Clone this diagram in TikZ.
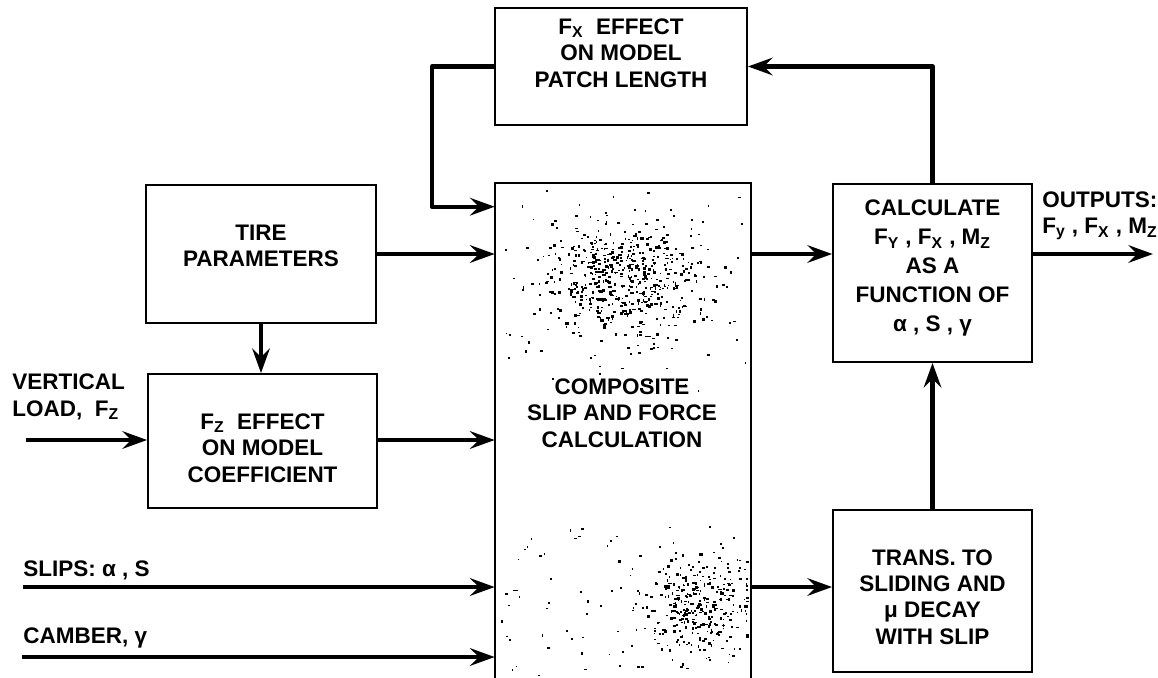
\documentclass[tikz,border=0pt]{standalone}
\usepackage{fontspec}
\setmainfont{Liberation Sans}
\usetikzlibrary{arrows.meta,positioning,calc}

\begin{document}
\begin{tikzpicture}[x=0.02cm,y=-0.02cm,
        font=\fontsize{12.8}{15}\selectfont\bfseries,
        boite/.style={draw,line width=1.1pt,inner sep=0pt},
        texte/.style={align=center,inner sep=0pt},
        fleche/.style={line width=2.4pt,line join=round,-{Stealth[length=14pt,width=10pt,inset=5pt]}},
        etiquette/.style={align=left,inner sep=0pt,anchor=west}]
        \useasboundingbox (0,0) rectangle (1158,677);

        % Boites
        \node[boite,minimum width=5.04cm,minimum height=2.34cm] (fx_effet) at (621,66.5) {};
        \node[texte] (fx_texte) at (621,53) {F\textsubscript{X}\ \ EFFECT\\ON MODEL\\PATCH LENGTH};
        \node[boite,minimum width=4.6cm,minimum height=2.76cm] (pneu) at (261,254) {};
        \node[texte] (pneu_texte) at (261,246) {TIRE\\PARAMETERS};
        \node[boite,minimum width=4.58cm,minimum height=2.68cm] (fz_effet) at (262.5,441) {};
        \node[texte] (fz_texte) at (262.5,448) {F\textsubscript{Z}\ \ EFFECT\\ON MODEL\\COEFFICIENT};
        \node[minimum width=5.12cm,minimum height=9.94cm,inner sep=0pt] (composite) at (623,431.5) {};
        \draw[line width=1.1pt] (composite.south west) |- (composite.north east) -- (composite.south east);
        \node[texte] (composite_texte) at (622,413) {COMPOSITE\\SLIP AND FORCE\\CALCULATION};
        \node[boite,minimum width=3.98cm,minimum height=3.56cm] (calcul) at (932.5,273) {};
        \node[texte,font=\fontsize{12.8}{16.5}\selectfont\bfseries] (calcul_texte) at (932.5,268)
            {CALCULATE\\F\textsubscript{Y} , F\textsubscript{X} , M\textsubscript{Z}\\AS A\\FUNCTION OF\\α , S , γ};
        \node[boite,minimum width=3.98cm,minimum height=3.24cm] (glissement) at (932.5,591) {};
        \node[texte] (glissement_texte) at (932.5,597) {TRANS. TO\\SLIDING AND\\μ DECAY\\WITH SLIP};

        % Grain du bloc central
        \pgfmathsetseed{7}
        \foreach \i in {1,...,520}{
            \pgfmathsetmacro{\px}{min(745,max(500,625+80*(rnd+rnd+rnd-1.5)))}
            \pgfmathsetmacro{\py}{min(355,max(190,278+55*(rnd+rnd+rnd-1.5)))}
            \fill (\px,\py) rectangle ++({1+2.5*rnd},{1+2*rnd});
        }
        \foreach \i in {1,...,90}{
            \fill ({500+245*rnd},{190+200*rnd}) rectangle ++({1+2*rnd},{1+1.5*rnd});
        }
        \foreach \i in {1,...,300}{
            \pgfmathsetmacro{\px}{min(746,max(500,695+55*(rnd+rnd+rnd-1.5)))}
            \pgfmathsetmacro{\py}{min(675,max(520,605+45*(rnd+rnd+rnd-1.5)))}
            \fill (\px,\py) rectangle ++({1+2.5*rnd},{1+2*rnd});
        }
        \foreach \i in {1,...,80}{
            \fill ({500+245*rnd},{520+155*rnd}) rectangle ++({1+2*rnd},{1+1.5*rnd});
        }

        % Entrees et sorties
        \coordinate (charge) at (26,440);
        \coordinate (glissements) at (23,587);
        \coordinate (carrossage) at (22,657);
        \coordinate (sorties) at (1153,254);
        \node[etiquette] (charge_texte) at (12,397) {VERTICAL\\LOAD,\ \ F\textsubscript{Z}};
        \node[etiquette] (glissements_texte) at (23,570) {SLIPS: α , S};
        \node[etiquette] (carrossage_texte) at (23,638) {CAMBER, γ};
        \node[etiquette] (sorties_texte) at (1042,216) {OUTPUTS:\\F\textsubscript{y} , F\textsubscript{X} , M\textsubscript{Z}};

        % Fleches
        \draw[fleche] (charge) -- (charge -| fz_effet.west);
        \draw[fleche] (glissements) -- (glissements -| composite.west);
        \draw[fleche] (carrossage) -- (carrossage -| composite.west);
        \draw[fleche] (pneu.south) -- (pneu.south |- fz_effet.north);
        \draw[fleche] (pneu.east) -- (pneu.east -| composite.west);
        \draw[fleche] (fz_effet.east |- charge) -- (charge -| composite.west);
        \draw[fleche] (fx_effet.west) -- ++(-62,0) |- ($(composite.north west)+(0,24)$);
        \draw[fleche] (calcul.north) |- (fx_effet.east);
        \draw[fleche] (pneu.east -| composite.east) -- (pneu.east -| calcul.west);
        \draw[fleche] (glissements -| composite.east) -- (glissements -| glissement.west);
        \draw[fleche] (glissement.north) -- (calcul.south);
        \draw[fleche] (sorties -| calcul.east) -- (sorties);
    \end{tikzpicture}
\end{document}
